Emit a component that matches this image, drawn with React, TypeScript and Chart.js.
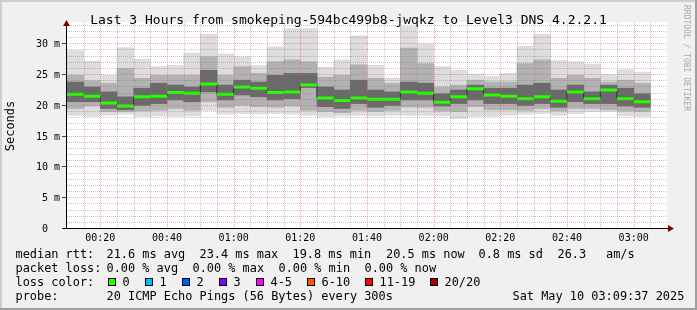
import React, { useEffect, useRef } from "react";
import { Chart, registerables } from "chart.js";

Chart.register(...registerables);

// 5-minute slots (start time of each slot), 00:10 .. 03:05
const slots = [
  "00:10", "00:15", "00:20", "00:25", "00:30", "00:35", "00:40", "00:45", "00:50", "00:55",
  "01:00", "01:05", "01:10", "01:15", "01:20", "01:25", "01:30", "01:35", "01:40", "01:45",
  "01:50", "01:55", "02:00", "02:05", "02:10", "02:15", "02:20", "02:25", "02:30", "02:35",
  "02:40", "02:45", "02:50", "02:55", "03:00", "03:05",
];

// ping distribution per slot (ms)
const pingMax = [28.8, 27.1, 24.8, 29.3, 27.4, 26.2, 26.4, 28.4, 31.5, 28.3, 27.8, 26.4, 29.4, 32.4, 32.4, 26.1, 27.3, 31.2, 26.4, 24.3, 32.7, 29.9, 26.2, 25.6, 25.0, 24.6, 25.1, 29.5, 31.5, 27.2, 27.0, 26.6, 24.9, 25.7, 25.3];
const pingHigh = [24.8, 23.9, 23.5, 25.9, 24.3, 24.8, 24.8, 24.8, 27.8, 24.8, 26.2, 25.1, 27.0, 27.3, 27.0, 24.5, 24.8, 26.5, 24.3, 23.5, 29.2, 26.7, 22.9, 23.2, 24.0, 23.7, 23.7, 26.7, 27.3, 24.3, 24.8, 24.3, 23.7, 24.0, 23.5];
const pingUpper = [23.7, 22.9, 22.1, 21.3, 22.7, 23.5, 23.2, 22.9, 25.6, 23.2, 24.0, 23.7, 24.8, 25.1, 25.1, 22.9, 22.4, 24.0, 22.4, 22.1, 23.7, 23.5, 21.8, 22.4, 23.2, 22.7, 22.7, 23.2, 23.5, 22.4, 23.2, 22.1, 23.2, 22.7, 21.8];
const medianRtt = [21.7, 21.4, 20.3, 19.8, 21.3, 21.4, 22.0, 21.9, 23.4, 21.7, 22.9, 22.7, 22.0, 22.1, 23.2, 21.1, 20.7, 21.1, 20.9, 20.9, 22.1, 21.9, 20.4, 21.3, 22.6, 21.6, 21.4, 21.0, 21.3, 20.6, 22.1, 21.0, 22.4, 21.0, 20.5];
const pingLower = [20.5, 20.5, 19.4, 19.2, 19.9, 20.2, 20.8, 20.5, 22.1, 20.8, 21.6, 21.3, 20.8, 21.0, 22.8, 19.7, 19.4, 20.2, 19.6, 19.9, 20.8, 20.8, 19.8, 20.2, 20.8, 20.2, 20.2, 19.9, 20.2, 19.6, 20.5, 20.2, 20.2, 19.8, 19.6];
const pingLow = [19.4, 19.8, 18.9, 18.9, 19.0, 19.1, 19.4, 19.1, 20.5, 19.6, 19.9, 19.7, 19.6, 19.8, 19.1, 18.9, 18.7, 19.1, 18.9, 19.1, 19.6, 19.6, 19.0, 18.9, 19.7, 19.2, 19.2, 19.1, 19.4, 19.0, 19.4, 19.4, 19.2, 19.0, 18.9];
const pingMin = [18.3, 18.1, 18.3, 18.5, 18.1, 18.2, 18.1, 18.2, 19.1, 18.5, 18.6, 18.5, 18.6, 18.5, 18.3, 18.1, 18.2, 18.3, 18.2, 18.3, 18.3, 18.3, 18.2, 17.8, 18.1, 18.1, 18.3, 18.5, 18.6, 18.3, 18.6, 18.9, 18.9, 18.2, 18.1];

const yTicks = [0, 5, 10, 15, 20, 25, 30];
const yTickLabels = ["0  ", "5 m", "10 m", "15 m", "20 m", "25 m", "30 m"];
const xTickLabels = ["00:20", "00:40", "01:00", "01:20", "01:40", "02:00", "02:20", "02:40", "03:00"];

const titleText = "Last 3 Hours from smokeping-594bc499b8-jwqkz to Level3 DNS 4.2.2.1";
const legendRtt = ["median rtt:", "21.6 ms avg", "23.4 ms max", "19.8 ms min", "20.5 ms now", "0.8 ms sd", "26.3", "am/s"];
const legendLoss = ["packet loss:", "0.00 % avg", "0.00 % max", "0.00 % min", "0.00 % now"];
const lossLabels = ["0", "1", "2", "3", "4-5", "6-10", "11-19", "20/20"];
const lossColors = ["#26ff00", "#00b8ff", "#0059ff", "#7e00ff", "#ff00ff", "#ff5500", "#ff0000", "#a10000"];
const probeText = ["probe:", "20 ICMP Echo Pings (56 Bytes) every 300s", "Sat May 10 03:09:37 2025"];

const MONO = '"DejaVu Sans Mono", monospace';

const band = (lo: number[], hi: number[]) => lo.map((v, i) => [v, hi[i]]);

const rrdPlugin = {
  id: "rrdLook",
  beforeDraw(chart: any) {
    const { ctx, chartArea: a, width, height } = chart;
    ctx.save();
    ctx.fillStyle = "#f0f0f0";
    ctx.fillRect(0, 0, width, height);
    ctx.fillStyle = "#cfcfcf";
    ctx.fillRect(0, 0, width, 2);
    ctx.fillRect(0, 0, 2, height);
    ctx.fillStyle = "#9e9e9e";
    ctx.fillRect(0, height - 2, width, 2);
    ctx.fillRect(width - 2, 0, 2, height);
    ctx.fillStyle = "#ffffff";
    ctx.fillRect(a.left, a.top, a.right - a.left, a.bottom - a.top);
    ctx.restore();
  },
  afterDatasetsDraw(chart: any) {
    const { ctx, chartArea: a, scales } = chart;
    const xs = scales.x;
    const ys = scales.y;
    const L = a.left, R = a.right, T = a.top, B = a.bottom;
    ctx.save();
    ctx.lineWidth = 1;
    ctx.setLineDash([1, 1]);
    const minorCol = "rgba(120,120,120,0.42)";
    const majorCol = "rgba(245,80,80,0.5)";
    // horizontal grid
    for (let v = 1; v < ys.max; v++) {
      const py = Math.round(ys.getPixelForValue(v)) + 0.5;
      ctx.strokeStyle = yTicks.includes(v) ? majorCol : minorCol;
      ctx.beginPath();
      ctx.moveTo(L, py);
      ctx.lineTo(R, py);
      ctx.stroke();
    }
    // vertical grid
    for (let i = 1; i < slots.length; i++) {
      const px = Math.round(xs.getPixelForValue(i - 0.5)) + 0.5;
      ctx.strokeStyle = xTickLabels.includes(slots[i]) ? majorCol : minorCol;
      ctx.beginPath();
      ctx.moveTo(px, T);
      ctx.lineTo(px, B);
      ctx.stroke();
    }
    ctx.setLineDash([]);
    // ticks on y
    ctx.strokeStyle = "#444";
    for (const v of yTicks) {
      const py = Math.round(ys.getPixelForValue(v)) + 0.5;
      ctx.beginPath();
      ctx.moveTo(L - 5, py);
      ctx.lineTo(L, py);
      ctx.stroke();
    }
    // axes
    ctx.strokeStyle = "#000";
    ctx.beginPath();
    ctx.moveTo(L - 4, B + 0.5);
    ctx.lineTo(R + 2, B + 0.5);
    ctx.moveTo(L - 0.5, B + 1);
    ctx.lineTo(L - 0.5, T + 4);
    ctx.stroke();
    ctx.fillStyle = "#800000";
    ctx.beginPath();
    ctx.moveTo(R + 1, B - 3);
    ctx.lineTo(R + 7, B + 0.5);
    ctx.lineTo(R + 1, B + 4);
    ctx.closePath();
    ctx.fill();
    ctx.beginPath();
    ctx.moveTo(L - 4, T + 4);
    ctx.lineTo(L - 0.5, T - 2);
    ctx.lineTo(L + 3, T + 4);
    ctx.closePath();
    ctx.fill();

    // tick labels
    ctx.fillStyle = "#000";
    ctx.font = `10px ${MONO}`;
    ctx.textAlign = "center";
    ctx.textBaseline = "alphabetic";
    for (const lab of xTickLabels) {
      const idx = slots.indexOf(lab);
      const px = xs.getPixelForValue(idx - 0.5);
      ctx.fillText(lab, px, B + 13);
    }
    ctx.textAlign = "right";
    yTicks.forEach((v, i) => {
      const py = Math.round(ys.getPixelForValue(v));
      ctx.fillText(yTickLabels[i], L - 7, py + 4);
    });

    // title
    ctx.textAlign = "center";
    ctx.font = `13px ${MONO}`;
    ctx.fillText(titleText, 348.5, 24);

    // vertical axis title
    ctx.save();
    ctx.translate(13.5, 126);
    ctx.rotate(-Math.PI / 2);
    ctx.font = `12px ${MONO}`;
    ctx.textAlign = "center";
    ctx.fillText("Seconds", 0, 0);
    ctx.restore();

    // watermark
    ctx.save();
    ctx.translate(684, 5);
    ctx.rotate(Math.PI / 2);
    ctx.font = `8px ${MONO}`;
    ctx.fillStyle = "#a8a8a8";
    ctx.textAlign = "left";
    ctx.fillText("RRDTOOL / TOBI OETIKER", 0, 0);
    ctx.restore();

    // legend
    ctx.font = `11.9px ${MONO}`;
    ctx.textAlign = "left";
    ctx.fillStyle = "#000";
    const rttX = [15.5, 106.5, 199.5, 292.5, 386, 478.5, 557.5, 606];
    legendRtt.forEach((t, i) => ctx.fillText(t, rttX[i], 258));
    const lossX = [15.5, 106.5, 192.5, 278.5, 364.5];
    legendLoss.forEach((t, i) => ctx.fillText(t, lossX[i], 272));
    ctx.fillText("loss color:", 15.5, 286);
    const boxX = [108, 145, 182, 219, 256, 307, 365, 430];
    lossLabels.forEach((t, i) => {
      ctx.fillStyle = lossColors[i];
      ctx.fillRect(boxX[i], 278, 8, 8);
      ctx.strokeStyle = "#000";
      ctx.lineWidth = 1;
      ctx.strokeRect(boxX[i] + 0.5, 278.5, 7, 7);
      ctx.fillStyle = "#000";
      ctx.fillText(t, boxX[i] + 14.5, 286);
    });
    const probeX = [15.5, 106.5, 512.5];
    probeText.forEach((t, i) => ctx.fillText(t, probeX[i], 300));
    ctx.restore();
  },
};

export default function App() {
  const ref = useRef<HTMLCanvasElement | null>(null);
  useEffect(() => {
    if (!ref.current) return;
    const barCommon = {
      type: "bar" as const,
      grouped: false,
      categoryPercentage: 1,
      barPercentage: 1,
      borderWidth: 0,
    };
    const chart = new Chart(ref.current, {
      type: "bar",
      data: {
        labels: slots,
        datasets: [
          {
            type: "line",
            label: "median",
            data: medianRtt,
            borderColor: "#202020",
            borderWidth: 1,
            stepped: "middle",
            fill: false,
            pointStyle: "line",
            pointRadius: 8.4,
            pointBorderWidth: 3,
            pointBorderColor: "#26ff00",
            pointBackgroundColor: "#26ff00",
          } as any,
          { ...barCommon, label: "core", data: band(pingLower, pingUpper), backgroundColor: "#6a6a6a" },
          { ...barCommon, label: "mid", data: band(pingLow, pingHigh), backgroundColor: "#b2b2b2" },
          { ...barCommon, label: "range", data: band(pingMin, pingMax), backgroundColor: "#dddddd" },
        ],
      },
      options: {
        animation: false,
        responsive: false,
        devicePixelRatio: 1,
        events: [],
        layout: { padding: { left: 67, right: 30, top: 22, bottom: 82 } },
        plugins: {
          legend: { display: false },
          tooltip: { enabled: false },
          title: { display: false },
        },
        scales: {
          x: { display: false, offset: true },
          y: { display: false, min: 0, max: 33.45 },
        },
      },
      plugins: [rrdPlugin],
    } as any);
    return () => chart.destroy();
  }, []);
  return (
    <div style={{ position: "fixed", left: 0, top: 0, width: 697, height: 310 }}>
      <canvas ref={ref} width={697} height={310} style={{ display: "block" }} />
    </div>
  );
}
